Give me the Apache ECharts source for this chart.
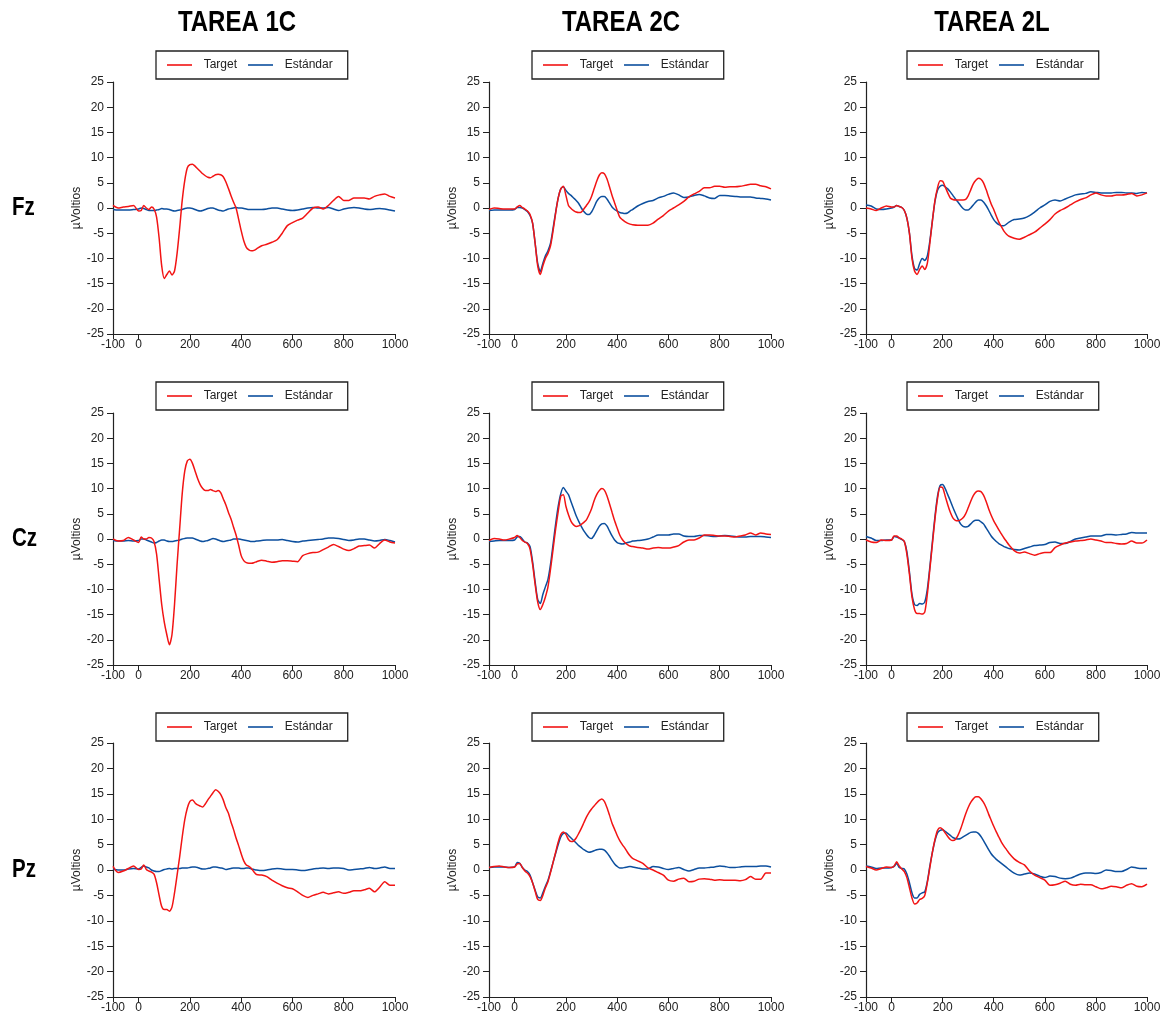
<!DOCTYPE html>
<html>
<head>
<meta charset="utf-8">
<title>Fz Cz Pz - Target / Estándar</title>
<script src="https://cdn.jsdelivr.net/npm/echarts@6/dist/echarts.min.js"></script>
<style>
html,body{margin:0;padding:0;background:#fff;}
#chart{width:1170px;height:1023px;}
</style>
</head>
<body>
<div id="chart"></div>
<script>
// eje temporal (ms)
var tiempos = [-100,-80,-60,-40,-20,0,
	10,20,30,40,50,60,70,80,90,100,
	110,120,130,140,150,160,170,180,190,200,
	210,220,230,240,250,260,270,280,290,300,
	310,320,330,340,350,360,370,380,390,400,
	410,420,430,440,450,460,
	480,500,520,540,560,580,600,620,640,660,
	680,700,720,740,760,780,800,820,840,860,
	880,900,920,940,960,980,1000];

var tareas = ['TAREA 1C','TAREA 2C','TAREA 2L'];
var electrodos = ['Fz','Cz','Pz'];
var series = ['Target','Estándar'];
var xTicks = [-100,0,200,400,600,800,1000];

// Fz
var fz1cTarget = [0.5,0,0.2,0.3,0.5,-0.6,
	-0.5,0.5,0,-0.3,0.2,-0.2,-1.8,-6,-11.5,-14,
	-13.2,-12.5,-13.3,-12.5,-9,-4,1.5,5.5,8,8.6,
	8.7,8.3,7.8,7.3,6.8,6.4,6.1,6.0,6.3,6.6,
	6.7,6.6,6.2,5.2,3.9,2.5,1.2,0,-2.2,-4.5,
	-6.5,-7.8,-8.3,-8.5,-8.4,-8.1,
	-7.5,-7.2,-6.8,-6.3,-5.0,-3.5,-2.9,-2.4,-2.0,-1.0,
	0,0.2,-0.2,0.5,1.5,2.3,1.5,1.5,2.0,2.0,
	2.0,1.8,2.3,2.6,2.8,2.3,2.0];
var fz1cEstandar = [-0.3,-0.4,-0.4,-0.4,-0.3,-0.2,
	0,-0.1,-0.3,-0.5,-0.5,-0.5,-0.4,-0.3,-0.1,-0.2,
	-0.2,-0.3,-0.5,-0.6,-0.5,-0.4,-0.3,-0.1,0,0,
	-0.1,-0.3,-0.5,-0.6,-0.5,-0.3,-0.1,0,0,-0.2,
	-0.4,-0.5,-0.6,-0.4,-0.2,-0.1,0,0.1,0,0,
	-0.1,-0.2,-0.3,-0.3,-0.3,-0.3,
	-0.3,-0.2,0,0,-0.2,-0.4,-0.5,-0.4,-0.2,0,
	0.1,0,0,0.1,-0.2,-0.5,-0.2,0,0.1,0,
	-0.2,-0.3,-0.2,-0.1,-0.2,-0.4,-0.6];
var fz2cTarget = [-0.3,0,-0.1,-0.2,-0.2,-0.2,
	0.2,0.5,0.1,-0.2,-0.6,-1.3,-3,-7,-11.5,-13.2,
	-11.5,-10,-9,-7.5,-4.5,-1,2,3.8,4.3,2.5,
	0.5,-0.1,-0.5,-0.8,-0.9,-0.8,-0.2,0.5,1.2,2.3,
	3.8,5.3,6.5,7.0,6.8,5.8,4.2,2.5,1.0,-0.5,
	-1.8,-2.3,-2.7,-3.0,-3.2,-3.3,
	-3.4,-3.4,-3.4,-3.0,-2.2,-1.5,-0.6,0,0.6,1.3,
	2.2,2.8,3.3,4.0,4.0,4.3,4.3,4.1,4.2,4.2,
	4.3,4.5,4.7,4.7,4.4,4.2,3.8];
var fz2cEstandar = [-0.5,-0.4,-0.4,-0.4,-0.4,-0.3,
	0.1,0.1,0,-0.3,-0.7,-1.5,-3,-7,-11,-12.6,
	-11,-9.5,-8.5,-7,-4,-0.8,2,3.8,4.2,3.5,
	2.9,2.5,2.0,1.5,0.9,0,-0.7,-1.2,-1.3,-0.8,
	0.2,1.3,2.0,2.3,2.3,1.8,1.0,0.2,-0.3,-0.6,
	-0.9,-1.0,-1.1,-1.0,-0.6,-0.3,
	0.4,0.9,1.3,1.5,2.0,2.3,2.7,3.0,2.6,2.1,
	2.2,2.5,2.7,2.4,2.0,1.9,2.5,2.5,2.4,2.3,
	2.2,2.2,2.2,2.0,1.9,1.8,1.6];
var fz2lTarget = [0,-0.2,-0.5,0,0.4,0.2,
	0.2,0.5,0.3,0.1,-0.5,-2,-5,-10,-12.5,-13.2,
	-12.2,-11.5,-12.2,-11,-7,-2.5,1.5,4,5.4,5.3,
	4.2,3.0,2.0,1.7,1.6,1.6,1.6,1.6,1.7,2.4,
	3.6,4.8,5.5,5.9,5.7,5.0,3.7,2.2,0.8,-0.3,
	-1.6,-2.8,-3.7,-4.6,-5.2,-5.6,
	-6.0,-6.2,-5.8,-5.3,-4.8,-4.0,-3.2,-2.3,-1.2,-0.5,
	0,0.6,1.2,1.7,2.0,2.6,3.0,2.6,2.4,2.4,
	2.6,2.6,2.7,2.9,2.4,2.6,3.0];
var fz2lEstandar = [0.6,0.4,-0.2,-0.3,-0.2,0,
	0.2,0.5,0.3,0.1,-0.5,-2,-5,-9.5,-12,-12.3,
	-11,-10,-10.4,-9.5,-6.5,-2.5,1.3,3.5,4.3,4.5,
	4.2,3.8,3.2,2.5,1.8,1.2,0.5,-0.1,-0.4,-0.4,
	0,0.6,1.2,1.6,1.6,1.2,0.5,-0.4,-1.4,-2.3,
	-2.9,-3.3,-3.5,-3.5,-3.2,-2.8,
	-2.3,-2.2,-2.0,-1.5,-0.8,0,0.6,1.3,1.6,1.4,
	1.8,2.2,2.6,2.8,2.9,3.2,3.1,3.0,3.0,3.0,
	3.1,3.1,3.0,3.0,2.9,3.1,3.0];

// Cz
var cz1cTarget = [0,-0.4,-0.3,0.3,-0.2,-0.7,
	0.4,0,0,0.3,0.2,-0.5,-3,-8,-13,-16.5,
	-19,-21,-19,-13,-5,2,9,13.5,15.5,15.8,
	15,13.5,12,10.8,10,9.6,9.6,9.8,9.6,9.4,
	9.6,9.2,8.0,6.8,5.3,4.0,2.4,0.8,-1.2,-3.3,
	-4.3,-4.7,-4.8,-4.8,-4.7,-4.5,
	-4.2,-4.4,-4.6,-4.5,-4.3,-4.3,-4.4,-4.5,-3.3,-2.9,
	-2.7,-2.6,-2.1,-1.6,-1.1,-1.5,-2.0,-2.3,-1.9,-1.4,
	-1.3,-1.2,-1.8,-0.9,-0.2,-0.6,-0.8];
var cz1cEstandar = [-0.3,-0.4,-0.4,-0.3,-0.4,-0.3,
	0,0,-0.2,-0.4,-0.6,-0.8,-0.7,-0.4,-0.2,-0.2,
	-0.4,-0.5,-0.5,-0.4,-0.3,-0.2,0,0.1,0.2,0.2,
	0.2,0,-0.2,-0.4,-0.5,-0.4,-0.3,-0.1,0.1,0,
	-0.2,-0.4,-0.5,-0.4,-0.3,-0.2,0,0,0,-0.1,
	-0.2,-0.3,-0.4,-0.5,-0.5,-0.4,
	-0.3,-0.2,-0.2,-0.2,-0.1,-0.3,-0.5,-0.6,-0.4,-0.3,
	-0.2,-0.1,0,0.2,0.2,0.1,-0.1,-0.3,-0.2,0,
	0,-0.2,-0.4,-0.3,-0.1,-0.3,-0.6];
var cz2cTarget = [-0.3,0.1,0,-0.2,0,0.3,
	0.7,0.3,-0.3,-0.6,-0.9,-2,-5,-9,-12.5,-14,
	-13,-11.5,-9.5,-6,-2,2,5.5,8.5,8.8,6.5,
	4.8,3.5,2.8,2.5,2.6,2.9,3.3,3.8,4.8,6.0,
	7.6,8.8,9.6,10.0,9.7,8.6,7.0,5.3,3.6,2.2,
	0.8,-0.1,-0.7,-1.1,-1.4,-1.5,
	-1.7,-1.8,-2.0,-1.8,-1.7,-1.8,-1.8,-1.6,-1.3,-0.6,
	-0.2,-0.2,0.2,0.8,0.8,0.7,0.6,0.6,0.5,0.4,
	0.6,0.8,1.2,0.8,1.2,1.0,0.9];
var cz2cEstandar = [-0.5,-0.4,-0.3,-0.3,-0.3,-0.2,
	0.4,0.5,0,-0.6,-0.8,-1.5,-4.5,-8.5,-12,-12.8,
	-11,-9.5,-8,-5,-1,3,6.5,9,10.2,9.5,
	8.8,7.4,6.0,4.6,3.5,2.5,1.6,0.9,0.3,0.1,
	0.7,1.6,2.5,3.0,3.1,2.6,1.6,0.6,-0.2,-0.7,
	-0.9,-1.0,-0.9,-0.7,-0.6,-0.4,
	-0.3,-0.2,0,0.4,0.8,0.8,0.8,1.0,1.0,0.6,
	0.5,0.5,0.7,0.7,0.6,0.5,0.6,0.7,0.6,0.5,
	0.4,0.4,0.5,0.5,0.5,0.4,0.3];
var cz2lTarget = [-0.2,-0.6,-0.7,-0.2,-0.3,-0.2,
	0.6,0.6,0.2,0,-0.5,-3,-7,-11.5,-14,-14.8,
	-14.8,-14.9,-14.5,-11,-6,-1,4,8,10.3,10.2,
	8.5,6.8,5.3,4.2,3.7,3.6,3.8,4.2,5.0,6.2,
	7.5,8.6,9.3,9.5,9.4,8.7,7.5,6.0,4.7,3.6,
	2.7,1.8,1.0,0.2,-0.5,-1.2,
	-2.3,-2.8,-2.6,-2.9,-3.2,-2.9,-2.7,-2.7,-1.7,-1.2,
	-0.8,-0.6,-0.4,-0.3,-0.2,0,-0.2,-0.4,-0.7,-0.7,
	-0.9,-1.0,-0.9,-0.4,-0.8,-0.8,-0.2];
var cz2lEstandar = [0.5,0.2,-0.3,-0.3,-0.2,-0.2,
	0.5,0.4,0.2,-0.1,-0.5,-2.5,-6.5,-11,-13,-13.2,
	-12.8,-12.9,-12.5,-10,-5.5,-0.5,4.5,8.5,10.6,10.8,
	10,8.8,7.6,6.3,5.1,4.0,3.0,2.5,2.4,2.5,
	3.0,3.5,3.7,3.7,3.4,3.0,2.2,1.4,0.6,0,
	-0.5,-0.9,-1.2,-1.5,-1.7,-1.9,
	-2.1,-2.2,-1.9,-1.6,-1.3,-1.2,-1.1,-0.7,-0.6,-0.9,
	-0.9,-0.5,0,0.2,0.4,0.6,0.6,0.6,0.9,0.9,
	0.8,0.9,1.0,1.3,1.2,1.2,1.2];

// Pz
var pz1cTarget = [0.7,-0.5,-0.2,0.3,0.8,0.1,
	0.2,1.0,0.1,-0.2,-0.4,-0.8,-2.5,-5,-7.2,-7.8,
	-7.8,-8.1,-7.3,-4.5,-1.0,2.6,6.5,9.9,12.2,13.5,
	13.8,13.2,12.8,12.6,12.4,13.0,13.8,14.5,15.2,15.8,
	15.5,14.9,13.8,12.3,11.2,9.5,8.0,6.3,4.8,3.2,
	1.8,1.0,0.7,0.3,-0.4,-0.9,
	-1.0,-1.3,-2.0,-2.6,-3.1,-3.5,-3.7,-4.3,-5.0,-5.4,
	-5.0,-4.7,-4.4,-4.7,-4.5,-4.3,-4.6,-4.4,-4.1,-4.1,
	-3.9,-3.6,-4.3,-3.4,-2.3,-3.0,-3.0];
var pz1cEstandar = [0.2,0,0,0.2,0.3,0.2,
	0.5,0.8,0.6,0.4,0,-0.2,-0.3,-0.3,-0.1,0.1,
	0.2,0.3,0.2,0.3,0.3,0.3,0.4,0.4,0.4,0.5,
	0.6,0.6,0.5,0.3,0.2,0.2,0.3,0.4,0.6,0.6,
	0.5,0.4,0.3,0.1,0.2,0.3,0.4,0.4,0.4,0.3,
	0.3,0.4,0.4,0.2,0.1,0,
	-0.1,0,0.2,0.3,0.2,0.1,0.1,0,-0.1,0,
	0.2,0.3,0.4,0.3,0.4,0.4,0.3,0,0.1,0.2,
	0.3,0.5,0.3,0.4,0.6,0.3,0.3];
var pz2cTarget = [0.5,0.7,0.8,0.6,0.5,0.6,
	1.2,1.3,0.5,-0.2,-0.6,-1.3,-2.5,-4.2,-5.8,-6.0,
	-5.0,-3.5,-2.3,-0.5,1.5,3.5,5.5,7.0,7.5,7.0,
	6.0,5.6,5.7,6.3,7.2,8.2,9.3,10.4,11.3,12.0,
	12.6,13.2,13.7,14.0,13.5,12.3,10.8,9.2,8.0,6.8,
	5.8,5.0,4.3,3.5,2.8,2.3,
	1.8,1.3,0.4,0,-0.5,-1.0,-2.0,-2.2,-1.8,-1.6,
	-2.3,-2.2,-1.8,-1.7,-1.8,-2.0,-1.9,-2.0,-2.0,-2.0,
	-2.1,-1.9,-1.3,-1.8,-1.8,-0.6,-0.6];
var pz2cEstandar = [0.5,0.6,0.6,0.6,0.5,0.6,
	1.5,1.3,0.5,0,-0.3,-1.0,-2.5,-4.0,-5.3,-5.5,
	-4.5,-3.2,-2.0,-0.3,1.5,3.3,5.0,6.5,7.2,7.3,
	6.8,6.3,5.8,5.3,4.8,4.4,4.0,3.7,3.5,3.6,
	3.8,4.0,4.1,4.1,3.9,3.4,2.7,1.9,1.2,0.7,
	0.4,0.4,0.5,0.6,0.7,0.6,
	0.4,0.2,0.2,0.7,0.6,0.3,0.1,0.3,0.5,0.1,
	-0.2,0.1,0.4,0.4,0.5,0.6,0.8,0.7,0.5,0.5,
	0.6,0.7,0.7,0.7,0.8,0.8,0.6];
var pz2lTarget = [0.7,0.4,0,0.3,0.6,0.5,
	0.8,1.6,0.8,0.2,-0.3,-1.5,-3.5,-5.5,-6.7,-6.5,
	-5.8,-5.6,-5.0,-2.5,0.5,3.5,6.0,7.8,8.3,8.0,
	7.3,6.6,6.0,5.8,6.0,6.8,8.0,9.5,11.0,12.3,
	13.3,14.0,14.4,14.4,14.0,13.3,12.3,11.0,9.8,8.6,
	7.5,6.5,5.5,4.7,4.0,3.3,
	2.2,1.5,1.0,-0.2,-1.0,-1.5,-2.0,-3.0,-2.9,-2.6,
	-2.2,-2.8,-3.0,-2.8,-2.9,-2.9,-3.3,-3.7,-3.5,-3.2,
	-3.3,-3.5,-3.0,-2.7,-3.2,-3.3,-2.8];
var pz2lEstandar = [0.8,0.6,0.3,0.4,0.4,0.5,
	0.7,1.3,0.5,0.3,0.2,-0.8,-2.5,-4.5,-5.5,-5.5,
	-4.8,-4.5,-4.3,-2.3,0.8,3.5,5.8,7.3,7.8,7.9,
	7.6,7.2,6.8,6.4,6.2,6.1,6.2,6.5,6.8,7.1,
	7.4,7.5,7.5,7.2,6.6,5.8,4.9,4.0,3.2,2.6,
	2.1,1.7,1.3,0.9,0.5,0.1,
	-0.6,-1.0,-0.8,-0.6,-0.8,-1.2,-1.5,-1.2,-1.3,-1.6,
	-1.7,-1.6,-1.2,-0.8,-0.6,-0.6,-0.7,-0.5,0,-0.1,
	-0.3,-0.3,0.1,0.6,0.4,0.3,0.3];

var datos = [
	[[fz1cTarget,fz1cEstandar],[fz2cTarget,fz2cEstandar],[fz2lTarget,fz2lEstandar]],
	[[cz1cTarget,cz1cEstandar],[cz2cTarget,cz2cEstandar],[cz2lTarget,cz2lEstandar]],
	[[pz1cTarget,pz1cEstandar],[pz2cTarget,pz2cEstandar],[pz2lTarget,pz2lEstandar]]
];

// posiciones de los paneles
var colLeft = [113,489,866];
var colWidth = [282,282,281];
var rowTop = [82,413,743];
var rowHeight = [252,252,254];
var legendLeft = [156,532,907];
var legendTop = [51,382,713];
var colores = ['#f21414','#0c4f9e'];
var fuente = '"Liberation Sans", Arial, sans-serif';

function pares(valores){
	if(valores.length!==tiempos.length){
		console.error('longitud incorrecta', valores.length);
	}
	return tiempos.map(function(t,i){
		return [t,valores[i]];
	});
}

function renderChart(){
	var grids=[],xAxes=[],yAxes=[],legends=[],lineas=[],textos=[];
	for(var r=0;r<3;r++){
		for(var c=0;c<3;c++){
			var idx=r*3+c;
			grids.push({left:colLeft[c],top:rowTop[r],width:colWidth[c],height:rowHeight[r]});
			xAxes.push({
				type:'value',gridIndex:idx,min:-100,max:1000,interval:100,
				axisLine:{onZero:false,lineStyle:{color:'#222',width:1.2}},
				axisTick:{length:5,customValues:xTicks,lineStyle:{color:'#222'}},
				axisLabel:{
					customValues:xTicks,margin:5,fontSize:12,color:'#222',fontFamily:fuente,
					formatter:function(v){return String(v);}
				},
				splitLine:{show:false}
			});
			yAxes.push({
				type:'value',gridIndex:idx,min:-25,max:25,interval:5,
				name:'µVoltios',nameLocation:'middle',nameGap:30,
				nameTextStyle:{fontSize:12,color:'#222',fontFamily:fuente},
				axisLine:{show:true,onZero:false,lineStyle:{color:'#222',width:1.2}},
				axisTick:{show:true,length:6,lineStyle:{color:'#222'}},
				axisLabel:{margin:9,fontSize:12,color:'#222',fontFamily:fuente},
				splitLine:{show:false}
			});
			legends.push({
				left:legendLeft[c],top:legendTop[r],
				data:series,selectedMode:false,
				icon:'rect',
				borderColor:'#222',borderWidth:1.3,
				padding:[7,15,7,11],itemGap:11,itemWidth:25,itemHeight:1.6,
				formatter:'  {name}',
				textStyle:{fontSize:12,color:'#222',fontFamily:fuente,lineHeight:14}
			});
			for(var s=0;s<2;s++){
				lineas.push({
					type:'line',name:series[s],xAxisIndex:idx,yAxisIndex:idx,
					data:pares(datos[r][c][s]),
					symbol:'none',smooth:0.25,
					itemStyle:{color:colores[s]},
					lineStyle:{color:colores[s],width:1.5},
					z:s===0?3:2
				});
			}
		}
	}
	var centros=[237,621,992];
	for(var i=0;i<3;i++){
		textos.push({
			type:'text',x:centros[i],y:23,scaleX:0.8,
			style:{text:tareas[i],font:'bold 30px '+fuente,fill:'#000',textAlign:'center',textVerticalAlign:'middle'}
		});
		textos.push({
			type:'text',x:12,y:rowTop[i]+rowHeight[i]/2,scaleX:0.82,
			style:{text:electrodos[i],font:'bold 25px '+fuente,fill:'#000',textAlign:'left',textVerticalAlign:'middle'}
		});
	}
	var option={
		backgroundColor:'#fff',
		animation:false,
		grid:grids,
		xAxis:xAxes,
		yAxis:yAxes,
		legend:legends,
		series:lineas,
		graphic:textos
	};
	var myChart=echarts.init(document.getElementById('chart'));
	myChart.setOption(option);
	return myChart;
}
renderChart();
</script>
</body>
</html>
